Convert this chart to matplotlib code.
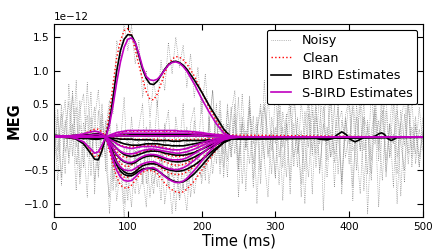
import numpy as np
import matplotlib
matplotlib.use('Agg')
import matplotlib.pyplot as plt

# time grid of the estimates (ms)
t_est = [0, 10, 20, 30, 40, 50, 55, 60, 65, 70,
         75, 80, 85, 90, 95, 100, 105, 110, 115, 120,
         125, 130, 135, 140, 145, 150, 155, 160, 165, 170,
         175, 180, 190, 200, 210, 220, 230, 240, 250, 260, 500]

# values in units of 1e-12
clean_a = [0.0, 0.01, 0.02, 0.03, 0.05, 0.08, 0.09, 0.08, 0.05, 0.04,
           0.35, 0.8, 1.2, 1.45, 1.6, 1.63, 1.53, 1.32, 1.08, 0.87,
           0.68, 0.57, 0.56, 0.65, 0.8, 0.96, 1.09, 1.17, 1.21, 1.2,
           1.16, 1.1, 0.92, 0.68, 0.45, 0.25, 0.08, 0.02, 0.01, 0.0, 0.0]
bird_a = [0.02, 0.02, 0.02, 0.01, 0.0, -0.02, -0.03, -0.03, -0.02, 0.0,
          0.22, 0.6, 1.0, 1.3, 1.47, 1.54, 1.53, 1.42, 1.22, 1.02,
          0.88, 0.8, 0.79, 0.84, 0.93, 1.02, 1.09, 1.13, 1.14, 1.12,
          1.08, 1.02, 0.86, 0.68, 0.48, 0.3, 0.12, 0.0, -0.03, -0.03, 0.0]
sbird_a = [0.02, 0.02, 0.02, 0.02, 0.01, 0.0, 0.0, 0.0, 0.0, 0.0,
           0.18, 0.48, 0.83, 1.13, 1.35, 1.47, 1.49, 1.42, 1.25, 1.05,
           0.91, 0.86, 0.85, 0.87, 0.93, 1.01, 1.08, 1.12, 1.13, 1.11,
           1.06, 0.99, 0.8, 0.58, 0.38, 0.2, 0.06, 0.01, 0.0, 0.0, 0.0]

clean_n1 = [0.0, 0.0, 0.0, -0.01, -0.01, -0.02, -0.02, -0.02, -0.01, 0.0,
            -0.2, -0.42, -0.6, -0.72, -0.76, -0.76, -0.72, -0.65, -0.58, -0.53,
            -0.5, -0.5, -0.51, -0.55, -0.62, -0.69, -0.75, -0.79, -0.82, -0.83,
            -0.82, -0.78, -0.66, -0.5, -0.34, -0.19, -0.08, -0.02, 0.0, 0.0, 0.0]
bird_n1 = [0.02, 0.02, 0.01, 0.0, -0.01, -0.02, -0.02, -0.02, -0.01, 0.0,
           -0.12, -0.28, -0.42, -0.51, -0.56, -0.58, -0.58, -0.55, -0.51, -0.48,
           -0.47, -0.47, -0.48, -0.5, -0.54, -0.58, -0.62, -0.65, -0.67, -0.68,
           -0.67, -0.64, -0.55, -0.43, -0.3, -0.18, -0.08, -0.03, -0.01, 0.0, 0.0]
sbird_n1 = [0.01, 0.01, 0.01, 0.0, 0.0, 0.0, 0.0, 0.0, 0.0, 0.0,
            -0.15, -0.35, -0.5, -0.6, -0.65, -0.66, -0.65, -0.6, -0.54, -0.5,
            -0.47, -0.46, -0.46, -0.49, -0.54, -0.59, -0.63, -0.66, -0.68, -0.68,
            -0.66, -0.62, -0.5, -0.36, -0.22, -0.11, -0.04, -0.01, 0.0, 0.0, 0.0]

clean_n2 = [0.0, 0.0, 0.0, 0.0, 0.0, 0.0, 0.0, 0.0, 0.0, 0.0,
            -0.16, -0.33, -0.47, -0.56, -0.6, -0.6, -0.57, -0.51, -0.45, -0.41,
            -0.39, -0.39, -0.4, -0.42, -0.46, -0.5, -0.53, -0.55, -0.56, -0.56,
            -0.55, -0.52, -0.44, -0.33, -0.22, -0.12, -0.05, -0.01, 0.0, 0.0, 0.0]
bird_n2 = [0.01, 0.01, 0.01, 0.0, 0.0, -0.01, -0.01, -0.01, 0.0, 0.0,
           -0.1, -0.24, -0.37, -0.46, -0.52, -0.55, -0.55, -0.52, -0.47, -0.43,
           -0.41, -0.4, -0.4, -0.41, -0.44, -0.47, -0.49, -0.5, -0.51, -0.51,
           -0.5, -0.48, -0.42, -0.34, -0.25, -0.16, -0.08, -0.03, -0.01, 0.0, 0.0]
sbird_n2 = [0.01, 0.01, 0.01, 0.0, 0.0, 0.0, 0.0, 0.0, 0.0, 0.0,
            -0.12, -0.27, -0.38, -0.45, -0.49, -0.5, -0.5, -0.47, -0.43, -0.4,
            -0.38, -0.37, -0.37, -0.39, -0.42, -0.45, -0.47, -0.48, -0.49, -0.48,
            -0.46, -0.43, -0.35, -0.25, -0.16, -0.08, -0.03, -0.01, 0.0, 0.0, 0.0]

clean_n3 = [0.0, 0.0, -0.01, -0.03, -0.08, -0.22, -0.29, -0.28, -0.15, 0.0,
            -0.1, -0.22, -0.32, -0.39, -0.43, -0.44, -0.42, -0.38, -0.33, -0.3,
            -0.28, -0.28, -0.29, -0.31, -0.34, -0.37, -0.39, -0.41, -0.42, -0.42,
            -0.41, -0.39, -0.33, -0.25, -0.17, -0.1, -0.04, -0.01, 0.0, 0.0, 0.0]
bird_n3 = [0.02, 0.01, 0.0, -0.03, -0.1, -0.25, -0.33, -0.34, -0.2, 0.0,
           -0.08, -0.18, -0.27, -0.33, -0.37, -0.39, -0.4, -0.38, -0.34, -0.31,
           -0.29, -0.28, -0.28, -0.29, -0.31, -0.33, -0.35, -0.36, -0.37, -0.37,
           -0.36, -0.35, -0.3, -0.24, -0.17, -0.11, -0.06, -0.02, -0.01, 0.0, 0.0]
sbird_n3 = [0.01, 0.01, 0.0, -0.02, -0.07, -0.18, -0.24, -0.22, -0.12, 0.0,
            -0.08, -0.17, -0.26, -0.32, -0.36, -0.38, -0.38, -0.36, -0.32, -0.29,
            -0.27, -0.26, -0.26, -0.27, -0.29, -0.31, -0.33, -0.34, -0.34, -0.34,
            -0.33, -0.31, -0.25, -0.18, -0.11, -0.06, -0.02, 0.0, 0.0, 0.0, 0.0]

clean_n4 = [0.0, 0.0, 0.0, 0.0, 0.0, 0.0, 0.0, 0.0, 0.0, 0.0,
            -0.07, -0.15, -0.22, -0.27, -0.3, -0.3, -0.29, -0.26, -0.23, -0.21,
            -0.2, -0.2, -0.2, -0.21, -0.23, -0.25, -0.27, -0.28, -0.29, -0.29,
            -0.28, -0.27, -0.23, -0.17, -0.11, -0.06, -0.02, 0.0, 0.0, 0.0, 0.0]
bird_n4 = [0.02, 0.02, 0.02, 0.01, 0.01, 0.0, 0.0, 0.0, 0.0, 0.0,
           -0.05, -0.11, -0.17, -0.22, -0.26, -0.28, -0.29, -0.28, -0.26, -0.24,
           -0.22, -0.21, -0.21, -0.21, -0.22, -0.24, -0.25, -0.26, -0.27, -0.27,
           -0.27, -0.26, -0.23, -0.18, -0.13, -0.08, -0.04, -0.02, -0.01, 0.0, 0.0]
sbird_n4 = [0.01, 0.01, 0.01, 0.01, 0.0, 0.0, 0.0, 0.0, 0.0, 0.0,
            -0.06, -0.12, -0.17, -0.21, -0.24, -0.25, -0.25, -0.24, -0.22, -0.2,
            -0.19, -0.18, -0.18, -0.19, -0.2, -0.21, -0.22, -0.23, -0.24, -0.24,
            -0.23, -0.22, -0.18, -0.13, -0.08, -0.04, -0.01, 0.0, 0.0, 0.0, 0.0]

clean_n5 = [0.0, 0.0, 0.0, 0.0, 0.0, 0.0, 0.0, 0.0, 0.0, 0.0,
            -0.03, -0.06, -0.09, -0.12, -0.14, -0.15, -0.15, -0.14, -0.13, -0.12,
            -0.12, -0.12, -0.12, -0.13, -0.14, -0.16, -0.17, -0.18, -0.19, -0.19,
            -0.18, -0.17, -0.14, -0.1, -0.06, -0.03, -0.01, 0.0, 0.0, 0.0, 0.0]
bird_n5 = [0.0, 0.0, -0.01, -0.01, -0.02, -0.02, -0.02, -0.01, -0.01, 0.0,
           -0.02, -0.04, -0.06, -0.08, -0.1, -0.11, -0.12, -0.12, -0.12, -0.11,
           -0.1, -0.1, -0.1, -0.1, -0.11, -0.12, -0.12, -0.13, -0.13, -0.13,
           -0.13, -0.12, -0.1, -0.08, -0.06, -0.04, -0.02, -0.01, 0.0, 0.0, 0.0]
sbird_n5 = [0.0, 0.0, 0.0, 0.0, 0.0, 0.0, 0.0, 0.0, 0.0, 0.0,
            -0.03, -0.06, -0.1, -0.13, -0.15, -0.16, -0.17, -0.16, -0.15, -0.14,
            -0.14, -0.14, -0.14, -0.15, -0.16, -0.17, -0.18, -0.19, -0.19, -0.19,
            -0.18, -0.17, -0.13, -0.09, -0.05, -0.02, -0.01, 0.0, 0.0, 0.0, 0.0]

clean_z1 = [0.0, 0.0, 0.0, 0.0, 0.0, 0.0, 0.0, 0.0, 0.0, 0.0,
            -0.01, -0.01, -0.02, -0.02, -0.02, -0.03, -0.03, -0.03, -0.03, -0.03,
            -0.03, -0.03, -0.03, -0.03, -0.04, -0.04, -0.04, -0.04, -0.04, -0.04,
            -0.04, -0.04, -0.03, -0.03, -0.02, -0.02, -0.01, -0.01, 0.0, 0.0, 0.0]
bird_z1 = [0.03, 0.02, 0.01, 0.0, -0.01, -0.02, -0.02, -0.02, -0.01, 0.0,
           -0.01, -0.02, -0.02, -0.03, -0.03, -0.03, -0.03, -0.04, -0.04, -0.04,
           -0.04, -0.04, -0.05, -0.05, -0.05, -0.05, -0.05, -0.06, -0.06, -0.06,
           -0.05, -0.05, -0.05, -0.05, -0.04, -0.04, -0.03, -0.03, -0.03, -0.02, 0.0]
sbird_z1 = [0.01, 0.01, 0.01, 0.01, 0.01, 0.01, 0.01, 0.01, 0.0, 0.0,
            0.01, 0.01, 0.02, 0.02, 0.02, 0.02, 0.02, 0.02, 0.02, 0.02,
            0.02, 0.02, 0.02, 0.02, 0.02, 0.02, 0.02, 0.02, 0.02, 0.02,
            0.02, 0.02, 0.02, 0.02, 0.01, 0.01, 0.01, 0.0, 0.0, 0.0, 0.0]

clean_p1 = [0.0, 0.0, 0.01, 0.02, 0.05, 0.1, 0.12, 0.12, 0.08, 0.0,
            0.02, 0.04, 0.06, 0.07, 0.08, 0.09, 0.09, 0.09, 0.09, 0.09,
            0.09, 0.09, 0.09, 0.09, 0.09, 0.09, 0.09, 0.09, 0.09, 0.09,
            0.09, 0.08, 0.07, 0.06, 0.05, 0.04, 0.04, 0.03, 0.03, 0.03, 0.0]
bird_p1 = [0.02, 0.02, 0.02, 0.03, 0.03, 0.04, 0.05, 0.05, 0.03, 0.0,
           0.01, 0.01, 0.02, 0.02, 0.02, 0.02, 0.02, 0.02, 0.02, 0.02,
           0.02, 0.02, 0.02, 0.02, 0.02, 0.02, 0.02, 0.02, 0.02, 0.02,
           0.02, 0.02, 0.02, 0.02, 0.01, 0.01, 0.01, 0.0, 0.0, 0.0, 0.0]
sbird_p1 = [0.01, 0.01, 0.02, 0.03, 0.05, 0.08, 0.09, 0.08, 0.05, 0.0,
            0.03, 0.05, 0.07, 0.08, 0.09, 0.1, 0.1, 0.1, 0.1, 0.1,
            0.1, 0.1, 0.1, 0.1, 0.1, 0.1, 0.1, 0.1, 0.1, 0.09,
            0.09, 0.09, 0.08, 0.07, 0.05, 0.04, 0.03, 0.02, 0.01, 0.0, 0.0]

clean_p2 = [0.0, 0.0, 0.0, 0.0, 0.01, 0.02, 0.03, 0.03, 0.02, 0.0,
            0.01, 0.02, 0.03, 0.04, 0.04, 0.05, 0.05, 0.05, 0.05, 0.05,
            0.05, 0.05, 0.05, 0.05, 0.05, 0.05, 0.05, 0.05, 0.05, 0.05,
            0.05, 0.05, 0.04, 0.04, 0.03, 0.02, 0.02, 0.01, 0.0, 0.0, 0.0]
bird_p2 = [0.02, 0.02, 0.02, 0.02, 0.02, 0.02, 0.02, 0.02, 0.01, 0.0,
           0.01, 0.01, 0.02, 0.03, 0.03, 0.03, 0.04, 0.04, 0.04, 0.04,
           0.04, 0.04, 0.04, 0.04, 0.04, 0.04, 0.04, 0.04, 0.04, 0.04,
           0.04, 0.04, 0.03, 0.03, 0.02, 0.02, 0.01, 0.01, 0.0, 0.0, 0.0]
sbird_p2 = [0.01, 0.01, 0.01, 0.02, 0.02, 0.03, 0.04, 0.04, 0.02, 0.0,
            0.02, 0.03, 0.04, 0.05, 0.06, 0.06, 0.06, 0.06, 0.06, 0.06,
            0.06, 0.06, 0.06, 0.06, 0.06, 0.06, 0.06, 0.06, 0.06, 0.06,
            0.06, 0.06, 0.05, 0.05, 0.04, 0.03, 0.02, 0.01, 0.0, 0.0, 0.0]

# late small wiggles of one BIRD estimate
t_tail = [260, 300, 340, 350, 360, 370, 378, 383, 390, 396, 401, 408,
          414, 420, 430, 436, 440, 444, 448, 452, 457, 461, 465, 500]
bird_tail = [-0.02, -0.02, -0.01, 0.0, -0.03, -0.04, -0.02, 0.03, 0.08, 0.04, -0.03, -0.07,
             -0.04, 0.0, 0.0, 0.02, 0.05, 0.065, 0.04, -0.02, -0.05, -0.03, 0.0, 0.0]

# noisy channels, one sample every 5 ms from 0 to 500
noisy_1 = [0.12, -0.35, 0.48, -0.22, 0.05, 0.62, -0.41, 0.18, -0.05, 0.33, -0.58, 0.27, 0.71, -0.15,
           0.1, 0.55, 0.35, 1.45, 1.2, 1.72, 1.3, 1.68, 1.1, 1.45, 0.6, 1.0, 0.3, 0.85, 0.45, 1.15,
           0.7, 1.42, 0.95, 1.5, 1.05, 1.38, 0.75, 1.25, 0.6, 1.05, 0.35, 0.95, 0.2, 0.7, -0.1, 0.55,
           -0.25, 0.4, -0.3,
           0.35, -0.48, 0.22, -0.15, 0.55, -0.62, 0.08, 0.41, -0.33, 0.66, -0.2, 0.15, -0.71, 0.38,
           -0.05, 0.52, -0.44, 0.29, -0.9, 0.12, 0.61, -0.27, 0.45, -0.55, 0.2, -0.12, 0.74, -0.38,
           0.06, -0.65, 0.33, 0.58, -0.2, -0.02, 0.47, -0.8, 0.25, -0.35, 0.69, -0.1, 0.4, -0.52,
           0.15, 0.86, -0.3, 0.22, -0.68, 0.5, -0.18, 0.31, -0.45, 0.1]
noisy_2 = [-0.45, 0.3, -0.72, 0.15, 0.52, -0.28, 0.85, -0.6, 0.22, -0.1, 0.68, -0.85, 0.4, -0.3,
           0.25, -1.15, -0.3, -0.95, -0.45, -1.2, -0.5, -1.05, -0.2, -0.85, -0.6, -0.15, -0.9, -0.35,
           -0.75, -0.1, -1.0, -0.55, -1.15, -0.4, -0.95, -0.7, -1.1, -0.3, -0.85, -0.45, -0.6, 0.05,
           -0.7, -0.2, 0.3, -0.55, 0.1, -0.35, 0.45,
           -0.25, 0.6, -0.7, 0.1, -0.4, 0.32, -1.0, 0.18, 0.5, -0.3, 0.05, -0.62, 0.8, -0.15, 0.35,
           -0.85, 0.2, -0.45, 0.55, -0.08, -0.6, 0.4, -0.25, 0.72, -1.1, 0.15, -0.3, 0.48, -0.55,
           0.25, -0.05, 0.63, -0.75, 0.3, -0.2, 0.55, -1.15, 0.08, 0.42, -0.35, 0.66, -0.6, 0.2,
           -0.1, 0.5, -0.88, 0.35, -0.25, 0.6, -0.4, 0.12, -0.2]
noisy_3 = [0.6, -0.2, 0.35, -0.55, 0.8, -0.05, 0.45, -0.7, -0.1, -0.9, 0.3, -0.65, -0.2, 0.5,
           -0.5, 0.2, -0.8, 0.05, -0.6, -0.15, -0.95, 0.1, -0.55, -0.05, -0.7, 0.15, -0.45, -0.85,
           0.0, -0.6, 0.2, -0.75, -0.25, 0.1, -0.9, -0.3, 0.15, -0.55, 0.25, -0.45, 0.05, -0.65,
           0.3, -0.3, 0.5, -0.4, 0.2, -0.6, 0.35,
           0.7, -0.35, 0.2, -0.8, 0.45, -0.1, 0.3, -0.5, 0.85, -0.25, 0.1, -0.6, 0.4, -0.95, 0.25,
           0.55, -0.3, 0.05, -0.7, 0.38, -0.15, 0.62, -0.45, 0.2, 0.75, -0.6, 0.1, -0.25, 0.5,
           -0.85, 0.3, -0.1, 0.45, -0.5, 0.82, -0.2, 0.15, -0.65, 0.35, -1.05, 0.28, 0.6, -0.3,
           0.05, -0.55, 0.4, -0.12, 0.7, -0.45, 0.2, -0.3, 0.08]
noisy_4 = [-0.2, 0.42, -0.6, 0.25, -0.3, 0.7, -0.15, 0.55, -0.45, 0.82, -0.25, 0.1, -0.5, 0.35,
           -0.3, 0.45, -0.65, 0.2, -0.1, 0.6, -0.55, 0.3, -0.4, 0.15, 0.5, -0.7, 0.25, -0.2, 0.55,
           -0.45, 0.1, 0.4, -0.6, 0.3, -0.15, 0.5, -0.8, 0.2, 0.45, -0.35, 0.6, -0.5, 0.15, 0.7,
           -0.4, 0.25, -0.6, 0.5, -0.2,
           0.5, -0.9, 0.3, -0.15, 0.62, -0.4, 0.2, -0.7, 0.45, 0.05, -0.55, 0.8, -0.3, 0.15, -0.6,
           0.35, 0.7, -0.2, 0.1, -0.5, 0.55, -0.85, 0.3, -0.1, 0.45, -0.35, 0.6, -0.75, 0.2, 0.4,
           -0.3, 0.05, -0.95, 0.5, -0.2, 0.3, -0.55, 0.72, -0.1, 0.25, -0.65, 0.4, -0.3, 0.55,
           -1.0, 0.2, 0.6, -0.4, 0.15, -0.25, 0.45, -0.1]
noisy_5 = [0.3, -0.65, 0.15, 0.55, -0.4, 0.2, -0.8, 0.4, 0.65, -0.3, 0.1, 0.45, -0.6, 0.25,
           -0.4, -0.9, 0.0, -0.75, -0.3, -1.0, 0.05, -0.6, -0.85, -0.2, -0.55, -1.05, -0.1, -0.7,
           -0.4, -0.95, 0.1, -0.65, -0.35, -1.1, -0.2, -0.8, 0.0, -0.9, -0.45, -0.1, -0.7, -0.3,
           0.2, -0.55, -0.05, 0.4, -0.45, 0.2, -0.3,
           0.25, -0.5, 0.65, -0.2, 0.4, -0.75, 0.1, 0.5, -0.35, -0.9, 0.3, -0.1, 0.6, -0.45, 0.2,
           -0.65, 0.75, -0.25, 0.05, -1.0, 0.35, -0.2, 0.55, -0.5, 0.15, 0.8, -0.3, -0.05, 0.45,
           -0.7, 0.25, -0.4, 0.65, -0.15, -0.85, 0.3, 0.1, -0.55, 0.5, -0.2, 0.88, -0.35, 0.2,
           -0.75, 0.4, -0.1, -0.5, 0.6, -0.3, 0.15, -0.45, 0.3]

noisy_list = [noisy_1, noisy_2, noisy_3, noisy_4, noisy_5]
clean_list = [clean_a, clean_n1, clean_n2, clean_n3, clean_n4, clean_n5, clean_z1, clean_p1, clean_p2]
bird_list = [bird_a, bird_n1, bird_n2, bird_n3, bird_n4, bird_n5, bird_z1, bird_p1, bird_p2]
sbird_list = [sbird_a, sbird_n1, sbird_n2, sbird_n3, sbird_n4, sbird_n5, sbird_z1, sbird_p1, sbird_p2]

scale = 1e-12

plt.rcParams['xtick.direction'] = 'in'
plt.rcParams['ytick.direction'] = 'in'
plt.rcParams['xtick.top'] = True
plt.rcParams['ytick.right'] = True

fig = plt.figure(figsize=(4.36, 2.49), dpi=100)
ax = fig.add_axes([0.124, 0.128, 0.846, 0.776])

for i, y in enumerate(noisy_list):
    t = np.linspace(0, 500, len(y))
    ax.plot(t, np.array(y) * scale, ls=':', color='0.5', lw=0.5,
            label='Noisy' if i == 0 else None)
for i, y in enumerate(clean_list):
    ax.plot(t_est, np.array(y) * scale, ls=':', color='red', lw=1.0,
            label='Clean' if i == 0 else None)
for i, y in enumerate(bird_list):
    ax.plot(t_est, np.array(y) * scale, color='black', lw=1.2,
            label='BIRD Estimates' if i == 0 else None)
ax.plot(t_tail, np.array(bird_tail) * scale, color='black', lw=1.2)
for i, y in enumerate(sbird_list):
    ax.plot(t_est, np.array(y) * scale, color='m', lw=1.2,
            label='S-BIRD Estimates' if i == 0 else None)

ax.set_xlim(0, 500)
ax.set_ylim(-1.2e-12, 1.7e-12)
ax.set_xticks([0, 100, 200, 300, 400, 500])
ax.set_yticks(np.array([-1.0, -0.5, 0.0, 0.5, 1.0, 1.5]) * scale)
ax.tick_params(labelsize=7.5, length=4, width=0.8)
ax.yaxis.get_offset_text().set_fontsize(7.5)
ax.set_xlabel('Time (ms)', fontsize=10.5, labelpad=1)
ax.set_ylabel('MEG', fontsize=10.5, fontweight='bold', labelpad=2)

leg = ax.legend(loc='upper right', fontsize=9.2, handlelength=1.55,
                handletextpad=0.85, fancybox=True, framealpha=1, edgecolor='black',
                borderaxespad=0.45, borderpad=0.35, labelspacing=0.36)
leg.get_frame().set_linewidth(0.8)

fig.savefig('out.png', dpi=100)
